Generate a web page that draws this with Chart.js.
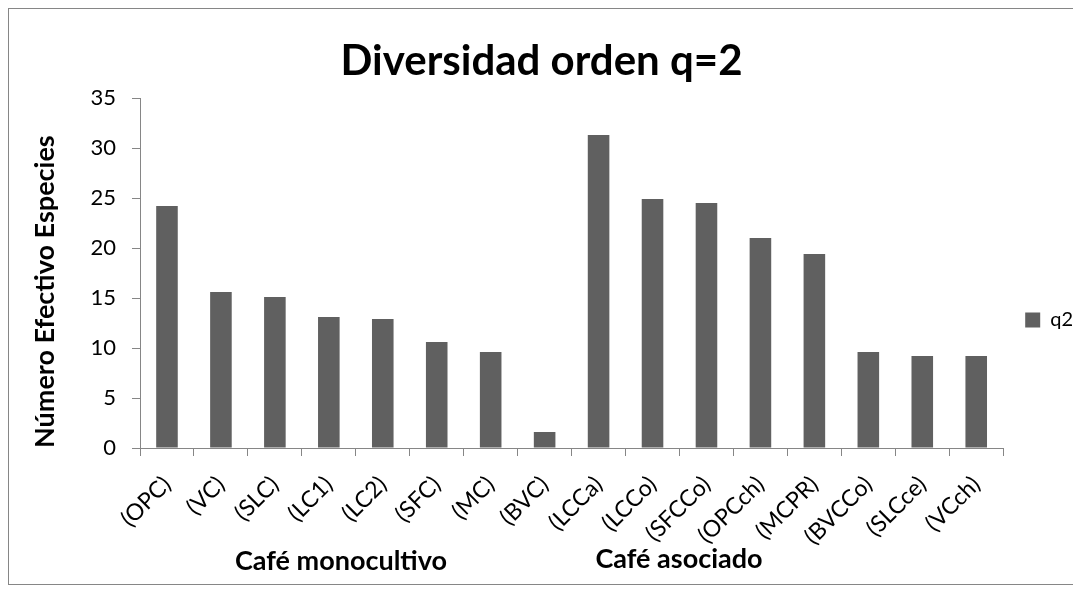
<!DOCTYPE html>
<html>
<head>
<meta charset="utf-8">
<script src="https://cdn.jsdelivr.net/npm/chart.js@4"></script>
<style>
  html, body { margin: 0; padding: 0; background: #fff; overflow: hidden; }
  #frame { position: absolute; left: 8px; top: 8px; width: 1200px; height: 575px; border: 1px solid #868686; }
  #chart { position: absolute; left: 0; top: 0; }
</style>
</head>
<body>
<div id="frame"></div>
<canvas id="chart" width="1083" height="592"></canvas>
<script>
// Data
const categories = ['(OPC)', '(VC)', '(SLC)', '(LC1)', '(LC2)', '(SFC)', '(MC)', '(BVC)',
  '(LCCa)', '(LCCo)', '(SFCCo)', '(OPCch)', '(MCPR)', '(BVCCo)', '(SLCce)', '(VCch)'];
const q2Values = [24.2, 15.6, 15.1, 13.1, 12.9, 10.6, 9.6, 1.6,
  31.3, 24.9, 24.5, 21.0, 19.4, 9.6, 9.2, 9.2];
const yTicks = [0, 5, 10, 15, 20, 25, 30, 35];
const groupLabels = ['Café monocultivo', 'Café asociado'];

const FONT = 'Lato';
const AXIS_GREY = '#868686';

// Group captions under the x axis + legend nudged down like the original
const extrasPlugin = {
  id: 'extras',
  afterLayout(chart) {
    chart.legend.top += 24;
    chart.legend.bottom += 24;
  },
  afterDraw(chart) {
    const ctx = chart.ctx;
    ctx.save();
    ctx.font = `bold 27px ${FONT}`;
    ctx.fillStyle = '#000';
    ctx.textAlign = 'center';
    ctx.textBaseline = 'alphabetic';
    ctx.fillText(groupLabels[0], 341, 570);
    ctx.fillText(groupLabels[1], 679, 568);
    ctx.restore();
  }
};

const ctx = document.getElementById('chart').getContext('2d');
const chart = new Chart(ctx, {
  type: 'bar',
  data: {
    labels: categories,
    datasets: [{
      label: 'q2',
      data: q2Values,
      backgroundColor: '#606060',
      borderWidth: 0,
      barPercentage: 0.4,
      categoryPercentage: 1.0
    }]
  },
  options: {
    responsive: false,
    animation: false,
    devicePixelRatio: 1,
    layout: { padding: 0 },
    scales: {
      x: {
        afterFit: (s) => { s.height = 144; },
        grid: { offset: true, drawOnChartArea: false, drawTicks: true, tickLength: 8, color: AXIS_GREY },
        border: { color: AXIS_GREY },
        ticks: {
          color: '#000',
          font: { family: FONT, size: 23 },
          minRotation: 45,
          maxRotation: 45,
          autoSkip: false,
          padding: 15
        }
      },
      y: {
        min: 0,
        max: 35,
        afterFit: (s) => { s.width = 140; },
        afterBuildTicks: (s) => { s.ticks = yTicks.map(v => ({ value: v })); },
        grid: { drawOnChartArea: false, drawTicks: true, tickLength: 8, color: AXIS_GREY },
        border: { color: AXIS_GREY },
        ticks: {
          color: '#000',
          font: { family: FONT, size: 22 },
          padding: 16
        },
        title: {
          display: true,
          text: 'Número Efectivo Especies',
          align: 'start',
          color: '#000',
          font: { family: FONT, size: 27, weight: 'bold' },
          padding: { top: 29, bottom: 0 }
        }
      }
    },
    plugins: {
      title: {
        display: true,
        text: 'Diversidad orden q=2',
        color: '#000',
        font: { family: FONT, size: 42, weight: 'bold' },
        padding: { top: 36, bottom: 11.6 }
      },
      legend: {
        position: 'right',
        labels: {
          boxWidth: 15,
          boxHeight: 15,
          padding: 22,
          color: '#000',
          font: { family: FONT, size: 20 }
        }
      },
      tooltip: { enabled: false }
    }
  },
  plugins: [extrasPlugin]
});
</script>
</body>
</html>
